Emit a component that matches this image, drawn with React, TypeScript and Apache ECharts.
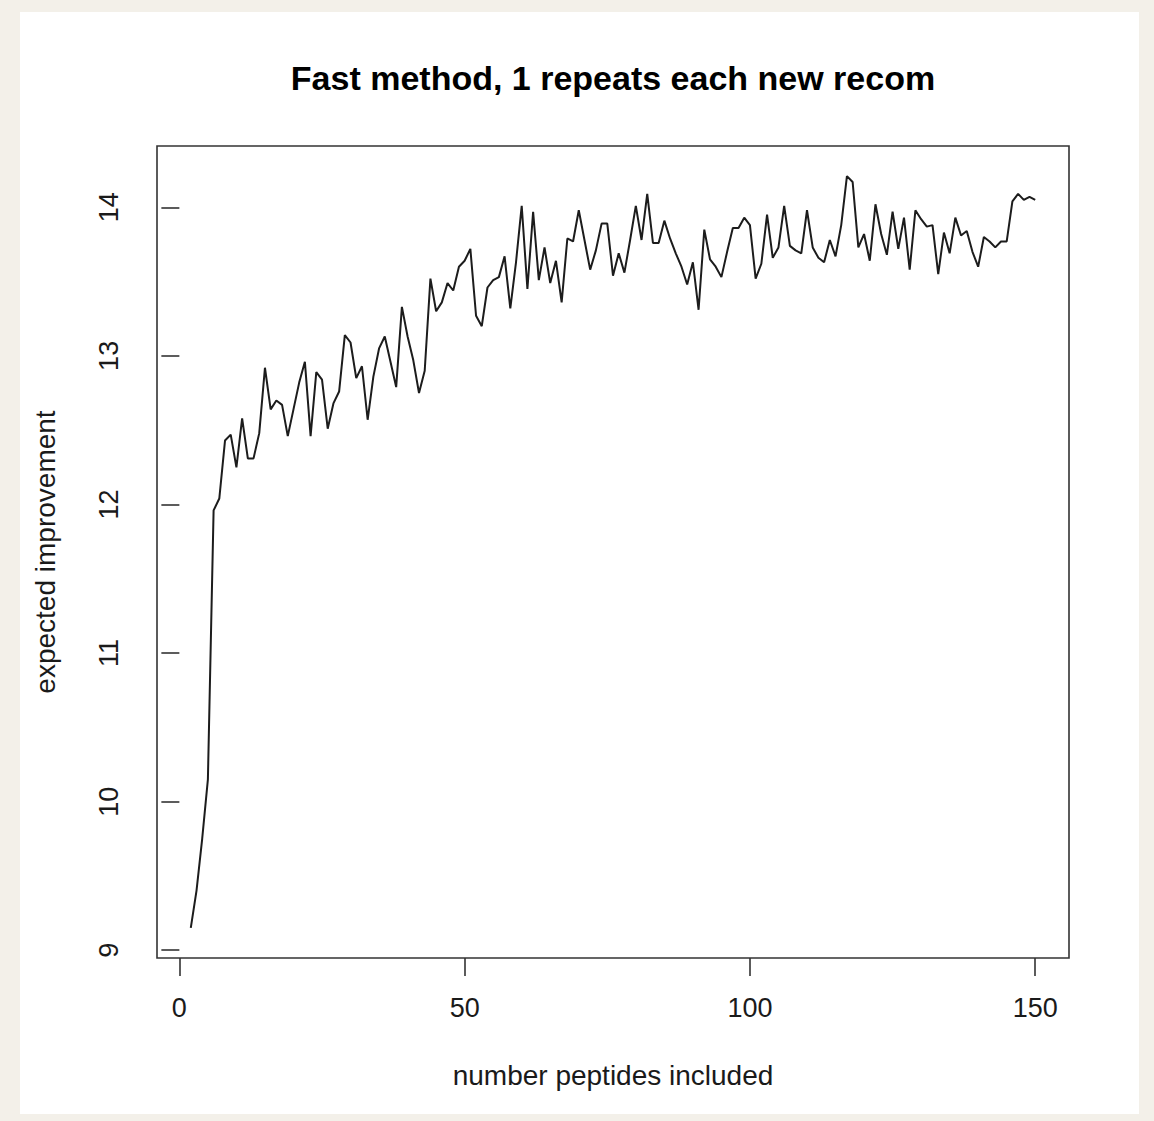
import React, { useEffect, useRef } from "react";
import * as echarts from "echarts";

const titleText = "Fast method, 1 repeats each new recom";
const xAxisTitle = "number peptides included";
const yAxisTitle = "expected improvement";

const xStart = 2;
const yValues = [
  9.15, 9.40, 9.75, 10.15, 11.96, 12.04, 12.43, 12.47, 12.25, 12.58,
  12.31, 12.31, 12.48, 12.92, 12.64, 12.70, 12.67, 12.46, 12.64, 12.82,
  12.96, 12.46, 12.89, 12.84, 12.51, 12.68, 12.76, 13.14, 13.09, 12.85,
  12.93, 12.57, 12.86, 13.05, 13.13, 12.96, 12.79, 13.33, 13.13, 12.97,
  12.75, 12.90, 13.52, 13.30, 13.36, 13.49, 13.44, 13.60, 13.64, 13.72,
  13.27, 13.20, 13.46, 13.51, 13.53, 13.67, 13.32, 13.63, 14.01, 13.45,
  13.97, 13.51, 13.73, 13.49, 13.64, 13.36, 13.79, 13.77, 13.98, 13.78,
  13.58, 13.71, 13.89, 13.89, 13.54, 13.69, 13.56, 13.78, 14.01, 13.78,
  14.09, 13.76, 13.76, 13.91, 13.79, 13.69, 13.60, 13.48, 13.63, 13.31,
  13.85, 13.65, 13.60, 13.53, 13.70, 13.86, 13.86, 13.93, 13.88, 13.52,
  13.62, 13.95, 13.66, 13.73, 14.01, 13.74, 13.71, 13.69, 13.98, 13.73,
  13.66, 13.63, 13.78, 13.67, 13.88, 14.21, 14.17, 13.73, 13.82, 13.64,
  14.02, 13.82, 13.68, 13.97, 13.72, 13.93, 13.58, 13.98, 13.92, 13.87,
  13.88, 13.55, 13.83, 13.69, 13.93, 13.81, 13.84, 13.70, 13.60, 13.80,
  13.77, 13.73, 13.77, 13.77, 14.04, 14.09, 14.05, 14.07, 14.05,
];

const xTicks = [0, 50, 100, 150];
const yTicks = [9, 10, 11, 12, 13, 14];

const FONT = '"Liberation Sans", Arial, Helvetica, sans-serif';

export default function App() {
  const ref = useRef<HTMLDivElement>(null);

  useEffect(() => {
    if (!ref.current) return;
    const chart = echarts.init(ref.current, null, { renderer: "svg" });

    const points = yValues.map((v, i) => [xStart + i, v]);
    const xMinD = xStart;
    const xMaxD = xStart + yValues.length - 1;
    const yMinD = Math.min(...yValues);
    const yMaxD = Math.max(...yValues);
    const xPad = (xMaxD - xMinD) * 0.04;
    const yPad = (yMaxD - yMinD) * 0.04;

    const axisColor = "#333333";

    chart.setOption({
      animation: false,
      backgroundColor: "#f3f0e9",
      graphic: [
        {
          type: "rect",
          z: -10,
          silent: true,
          shape: { x: 20, y: 12, width: 1119, height: 1102 },
          style: { fill: "#ffffff" },
        },
        {
          type: "text",
          x: 613,
          y: 78,
          style: {
            text: titleText,
            font: `bold 34px ${FONT}`,
            fill: "#000000",
            textAlign: "center",
            textVerticalAlign: "middle",
          },
        },
      ],
      grid: {
        left: 157,
        right: 85,
        top: 146,
        bottom: 163,
        show: true,
        borderColor: axisColor,
        borderWidth: 1.6,
        backgroundColor: "transparent",
        containLabel: false,
      },
      xAxis: {
        type: "value",
        min: xMinD - xPad,
        max: xMaxD + xPad,
        name: xAxisTitle,
        nameLocation: "middle",
        nameGap: 103,
        nameTextStyle: { fontFamily: FONT, fontSize: 28, color: "#1a1a1a" },
        axisLine: { show: false },
        splitLine: { show: false },
        axisTick: {
          show: true,
          inside: false,
          length: 18,
          customValues: xTicks,
          lineStyle: { color: axisColor, width: 1.6 },
        },
        axisLabel: {
          customValues: xTicks,
          margin: 36,
          fontFamily: FONT,
          fontSize: 27,
          color: "#1a1a1a",
        },
      },
      yAxis: {
        type: "value",
        min: yMinD - yPad,
        max: yMaxD + yPad,
        name: yAxisTitle,
        nameLocation: "middle",
        nameGap: 98,
        nameRotate: 90,
        nameTextStyle: { fontFamily: FONT, fontSize: 28, color: "#1a1a1a" },
        axisLine: { show: false },
        splitLine: { show: false },
        axisTick: {
          show: true,
          inside: false,
          length: 18,
          customValues: yTicks,
          lineStyle: { color: axisColor, width: 1.6 },
        },
        axisLabel: {
          customValues: yTicks,
          rotate: 90,
          margin: 35,
          fontFamily: FONT,
          fontSize: 27,
          color: "#1a1a1a",
        },
      },
      series: [
        {
          type: "line",
          data: points,
          showSymbol: false,
          symbol: "none",
          lineStyle: { color: "#1c1c1c", width: 2 },
          silent: true,
        },
      ],
    });

    return () => chart.dispose();
  }, []);

  return (
    <div
      ref={ref}
      style={{ position: "fixed", left: 0, top: 0, width: 1154, height: 1121 }}
    />
  );
}
